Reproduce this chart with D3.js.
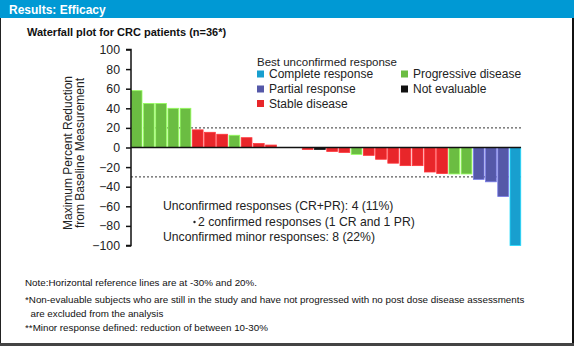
<!DOCTYPE html>
<html>
<head>
<meta charset="utf-8">
<script src="https://cdn.jsdelivr.net/npm/d3@7"></script>
<style>
  html, body { margin: 0; padding: 0; background: #fff; }
  svg { display: block; font-family: "Liberation Sans", Arial, sans-serif; }
</style>
</head>
<body>
<svg id="chart" width="574" height="346"></svg>
<script>
// ---- Data ----
const patients = d3.range(1, 33).map(i => "P" + i);
const values = [58, 45, 45, 40, 40, 18, 15.5, 13.5, 12.5, 10, 4, 2.5, 0, 0,
  -2, -2, -4, -5, -7, -8, -12, -16, -18.5, -18.5, -25, -26.5, -27, -27,
  -32.5, -35, -50, -100];
const responses = ["PD","PD","PD","PD","PD","SD","SD","SD","PD","SD","SD","SD","SD","SD",
  "SD","NE","SD","SD","PD","SD","SD","SD","SD","SD","SD","SD","PD","PD",
  "PR","PR","PR","CR"];
const responseCodes = ["CR", "PR", "SD", "PD", "NE"];
const responseLabels = ["Complete response", "Partial response", "Stable disease", "Progressive disease", "Not evaluable"];
const responseColors = ["#189fcf", "#5558a8", "#e8262a", "#6bbd42", "#111111"];
const yTicks = [100, 80, 60, 40, 20, 0, -20, -40, -60, -80, -100];
const refLines = [20, -30];
const titleText = "Results: Efficacy";
const subtitleText = "Waterfall plot for CRC patients (n=36*)";
const yLabelLines = ["Maximum Percent Reduction", "from Baseline Measurement"];
const legendTitle = "Best unconfirmed response";
const summaryLines = ["Unconfirmed responses (CR+PR): 4 (11%)", "2 confirmed responses (1 CR and 1 PR)", "Unconfirmed minor responses: 8 (22%)"];
const notes = ["Note:Horizontal reference lines are at -30% and 20%.",
  "*Non-evaluable subjects who are still in the study and have not progressed with no post dose disease assessments",
  "  are excluded from the analysis",
  "**Minor response defined: reduction of between 10-30%"];

// ---- Drawing ----
const svg = d3.select("#chart");
const W = 574, H = 346;

// Header bar
svg.append("rect").attr("x", 0).attr("y", 0).attr("width", W).attr("height", 18).attr("fill", "#0099d4");
svg.append("text").attr("x", 9).attr("y", 13.5).attr("fill", "#fff")
  .attr("font-weight", "bold").attr("font-size", 12).text(titleText);

// Frame
svg.append("rect").attr("x", 0).attr("y", 18).attr("width", 1).attr("height", H - 18).attr("fill", "#222");
svg.append("rect").attr("x", W - 2).attr("y", 18).attr("width", 2).attr("height", H - 18).attr("fill", "#111");
svg.append("rect").attr("x", 0).attr("y", H - 3).attr("width", W).attr("height", 3).attr("fill", "#444");

// Subtitle
svg.append("text").attr("x", 27).attr("y", 36).attr("font-weight", "bold")
  .attr("font-size", 11).attr("fill", "#111").text(subtitleText);

const color = d3.scaleOrdinal().domain(responseCodes).range(responseColors);
const x = d3.scaleBand().domain(patients).range([131, 521]).paddingInner(0.12).paddingOuter(0.02);
const y = d3.scaleLinear().domain([-100, 100]).range([245.5, 49.5]);

// Reference lines
svg.selectAll("line.ref").data(refLines).enter().append("line")
  .attr("x1", 131).attr("x2", 521)
  .attr("y1", d => y(d)).attr("y2", d => y(d))
  .attr("stroke", "#333").attr("stroke-width", 1).attr("stroke-dasharray", "2,2");

// Bars
const data = patients.map((p, i) => ({p, v: values[i], r: responses[i]}));
svg.selectAll("rect.bar").data(data).enter().append("rect")
  .attr("x", d => x(d.p))
  .attr("width", x.bandwidth())
  .attr("y", d => Math.min(y(d.v), y(0)))
  .attr("height", d => Math.abs(y(d.v) - y(0)))
  .attr("fill", d => color(d.r))
  .attr("stroke", d => d3.color(color(d.r)).brighter(0.9))
  .attr("stroke-width", 0.8);

// Y axis
const yAxis = d3.axisLeft(y).tickValues(yTicks).tickSize(5).tickPadding(6);
const gy = svg.append("g").attr("transform", "translate(131,0)").call(yAxis);
gy.select(".domain").attr("stroke", "#111").attr("stroke-width", 1.5).attr("d", `M-5,${y(100)}H0V${y(-100)}H-5`);
gy.selectAll(".tick line").attr("stroke", "#111").attr("stroke-width", 1.5);
gy.selectAll(".tick text").attr("font-size", 12.3).attr("fill", "#222")
  .attr("font-family", "Liberation Sans, Arial, sans-serif");

// Zero line
svg.append("line").attr("x1", 131).attr("x2", 521).attr("y1", y(0)).attr("y2", y(0))
  .attr("stroke", "#111").attr("stroke-width", 1.5);

// Y label
const yl = svg.append("text").attr("transform", `translate(0,153) rotate(-90)`)
  .attr("text-anchor", "middle").attr("font-size", 12).attr("fill", "#222");
yl.selectAll("tspan").data(yLabelLines).enter().append("tspan")
  .attr("x", 0).attr("y", (d, i) => 71.5 + i * 12.5).text(d => d);

// Legend
svg.append("text").attr("x", 257).attr("y", 66).attr("font-size", 11.5).attr("fill", "#222").text(legendTitle);
const legendPos = [[257, 74], [257, 89], [257, 103.5], [401, 74], [401, 89]];
const lg = svg.selectAll("g.leg").data(responseCodes).enter().append("g")
  .attr("transform", (d, i) => `translate(${legendPos[i][0]},${legendPos[i][1]})`);
lg.append("rect").attr("x", 0).attr("y", -3.5).attr("width", 7).attr("height", 7)
  .attr("fill", d => color(d));
lg.append("text").attr("x", 12).attr("y", 4.2).attr("font-size", 12).attr("fill", "#222")
  .text((d, i) => responseLabels[i]);

// Summary annotations
svg.append("text").attr("x", 163).attr("y", 209.5).attr("font-size", 12.2).attr("fill", "#222").text(summaryLines[0]);
svg.append("circle").attr("cx", 194.5).attr("cy", 222).attr("r", 1.2).attr("fill", "#222");
svg.append("text").attr("x", 198).attr("y", 226).attr("font-size", 12.2).attr("fill", "#222").text(summaryLines[1]);
svg.append("text").attr("x", 163).attr("y", 241).attr("font-size", 12.2).attr("fill", "#222").text(summaryLines[2]);

// Notes
const noteY = [285.5, 303, 317, 331];
svg.selectAll("text.note").data(notes).enter().append("text")
  .attr("x", 25).attr("y", (d, i) => noteY[i])
  .attr("font-size", 9.8).attr("fill", "#111")
  .attr("xml:space", "preserve").style("white-space", "pre")
  .text(d => d);
</script>
</body>
</html>
